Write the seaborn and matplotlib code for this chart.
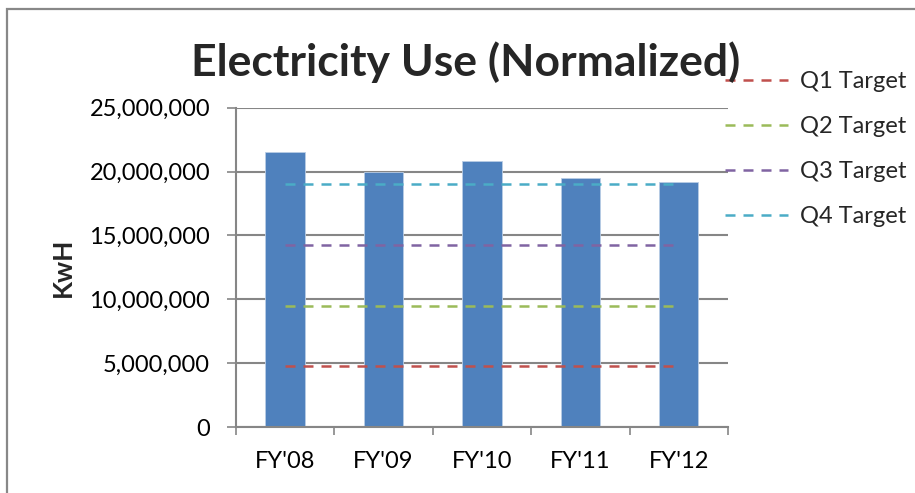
import numpy as np
import pandas as pd
import seaborn as sns
import matplotlib.pyplot as plt
from matplotlib.patches import Rectangle
from matplotlib.ticker import FuncFormatter, FixedLocator

# data
years = ["FY'08", "FY'09", "FY'10", "FY'11", "FY'12"]
kwh = [21550000, 20000000, 20850000, 19500000, 19180000]
target_names = ["Q1 Target", "Q2 Target", "Q3 Target", "Q4 Target"]
target_values = [4750000, 9500000, 14250000, 19000000]

# excel 2007 palette
bar_color = "#4F81BD"
target_colors = ["#C0504D", "#9BBB59", "#8064A2", "#4BACC6"]
grid_gray = "#868686"

sns.set_style("white")
plt.rcParams['font.family'] = ['Lato', 'DejaVu Sans']

fig = plt.figure(figsize=(9.15, 4.93), dpi=100)
ax = fig.add_axes([235.7 / 915, 1 - 427 / 493, (728 - 235.7) / 915, (427 - 107.7) / 493])

bars = pd.DataFrame({"Year": years, "KwH": kwh})
sns.barplot(data=bars, x="Year", y="KwH", color=bar_color, width=0.4,
            edgecolor="#B9CDE5", linewidth=0.6, saturation=1, ax=ax, zorder=2)

# quarterly targets as flat dashed lines across the years
for name, val, col in zip(target_names, target_values, target_colors):
    sns.lineplot(x=years, y=[val] * len(years), color=col, linewidth=1.8,
                 linestyle=(0, (4, 3.2)), label=name, ax=ax, zorder=3)

ax.set_xlim(-0.5, 4.5)
ax.set_ylim(0, 25000000)
ax.set_yticks(np.arange(0, 25000001, 5000000))
ax.yaxis.set_major_formatter(FuncFormatter(lambda v, p: f"{int(v):,}"))
ax.grid(axis="y", color=grid_gray, linewidth=1.5, zorder=0)
ax.set_axisbelow(True)

for s in ["top", "right"]:
    ax.spines[s].set_visible(False)
for s in ["left", "bottom"]:
    ax.spines[s].set_color(grid_gray)
    ax.spines[s].set_linewidth(1.5)

ax.tick_params(axis="y", length=6.5, width=1.2, color=grid_gray, pad=12,
               labelsize=17, labelcolor="black", left=True)
ax.tick_params(axis="x", which="major", length=0, pad=17, labelsize=17, labelcolor="black")
ax.xaxis.set_minor_locator(FixedLocator(np.arange(-0.5, 5, 1)))
ax.tick_params(axis="x", which="minor", length=6, width=1.2, color=grid_gray, bottom=True)

ax.set_xlabel("")
ax.set_ylabel("KwH", fontsize=19, fontweight="bold", labelpad=10)

fig.text(466 / 915, 1 - 62 / 493, "Electricity Use (Normalized)", fontsize=32,
         fontweight="bold", ha="center", va="center")

ax.legend(loc="upper left", bbox_to_anchor=(725 / 915, 1 - 71 / 493),
          bbox_transform=fig.transFigure, frameon=False, fontsize=17,
          handlelength=2.67, handletextpad=0.5, labelspacing=1.02, borderpad=0,
          borderaxespad=0)

# chart area border like the excel object frame
fig.patches.append(Rectangle((7 / 915, -0.1), 1.2, 1.1 - 9 / 493, transform=fig.transFigure,
                             fill=False, edgecolor="#888888", linewidth=1.6, clip_on=False))

fig.savefig("out.png", dpi=100)
